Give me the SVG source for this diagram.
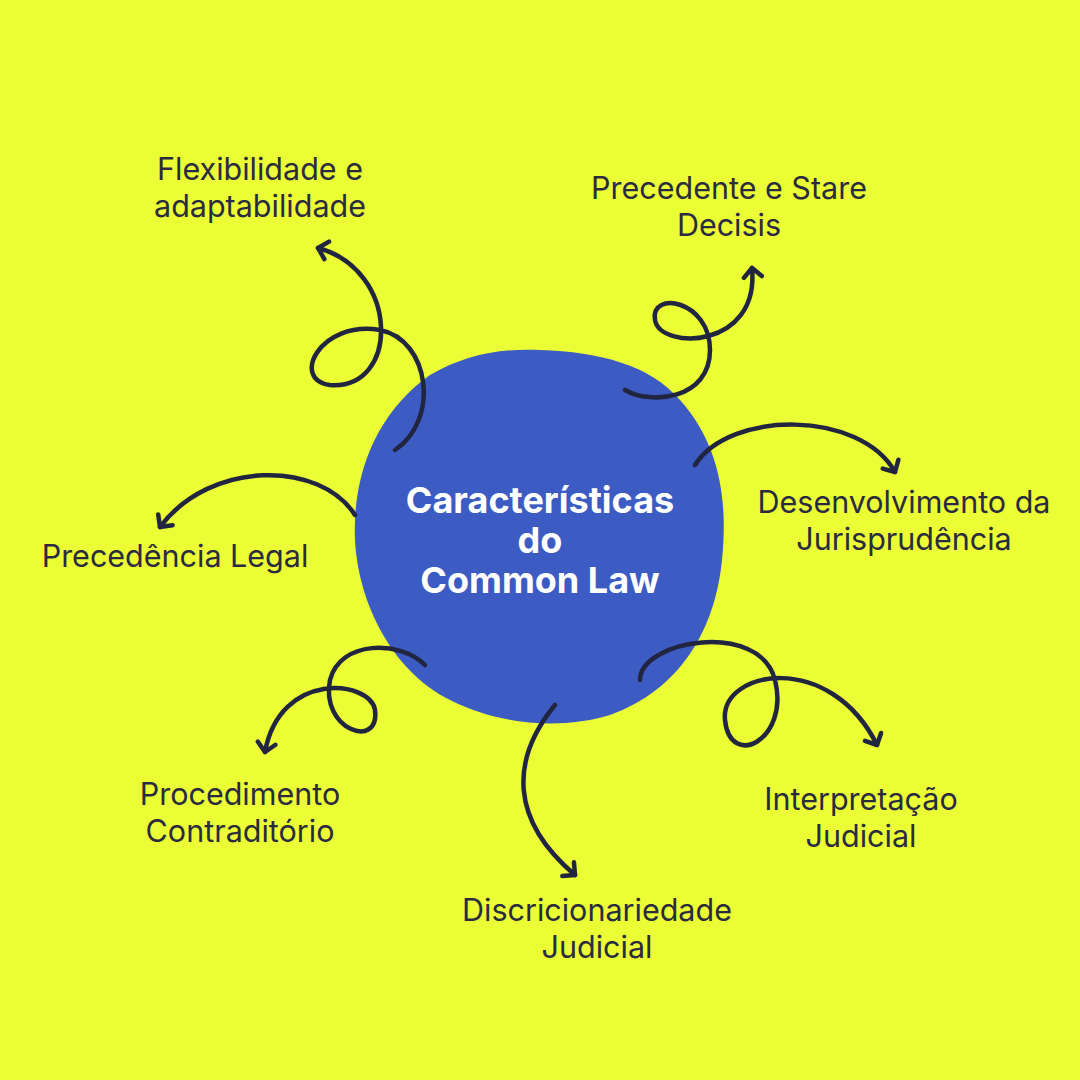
<svg xmlns="http://www.w3.org/2000/svg" width="1080" height="1080" viewBox="0 0 1080 1080">
<defs>
<marker id="ah" viewBox="-12 -12 24 24" markerWidth="24" markerHeight="24" markerUnits="userSpaceOnUse" orient="auto" refX="0" refY="0">
<polyline points="-9,-9 0,0 -9,9" fill="none" stroke="#22253f" stroke-width="4.5" stroke-linecap="round" stroke-linejoin="round"/>
</marker>
<style>
.lbl{font-family:Inter,"Open Sans",sans-serif;font-size:30.5px;fill:#2a2b3f;text-anchor:middle}
.ttl{font-family:Inter,"Open Sans",sans-serif;font-size:36px;font-weight:700;fill:#fff;text-anchor:middle}
.c{fill:none;stroke:#22253f;stroke-width:4.5;stroke-linecap:round;marker-end:url(#ah)}
</style>
</defs>
<rect width="1080" height="1080" fill="#eafd35"/>
<g id="center">
<path d="M540,350 C600,352 650,365 680,400 C720,445 728,500 722,560 C715,630 680,690 610,715 C560,730 500,725 450,700 C390,670 358,600 355,540 C352,470 380,410 430,375 C465,355 500,348 540,350 Z" fill="#3c5cc4"/>
<text class="ttl" x="540" y="513">Características</text>
<text class="ttl" x="540" y="553">do</text>
<text class="ttl" x="540" y="593">Common Law</text>
</g>
<g id="connectors">
<path class="c" d="M395,450 C440,420 430,340 380,330 C320,320 290,380 330,385 C400,390 400,270 318,248"/>
<path class="c" d="M625,390 C650,405 710,400 710,350 C710,300 650,290 655,320 C660,350 760,350 752,268"/>
<path class="c" d="M695,465 C730,410 860,410 895,472"/>
<path class="c" d="M355,515 C320,460 210,460 160,527"/>
<path class="c" d="M425,665 C400,640 340,640 330,680 C320,730 380,750 375,710 C370,680 280,670 265,752"/>
<path class="c" d="M555,705 C510,760 510,820 575,875"/>
<path class="c" d="M640,680 C640,640 760,620 775,680 C790,740 730,770 725,720 C720,670 830,650 877,745"/>
</g>
<g id="n1"><text class="lbl" x="260" y="180">Flexibilidade e</text><text class="lbl" x="260" y="217">adaptabilidade</text></g>
<g id="n2"><text class="lbl" x="729" y="199">Precedente e Stare</text><text class="lbl" x="729" y="236">Decisis</text></g>
<g id="n3"><text class="lbl" x="904" y="513">Desenvolvimento da</text><text class="lbl" x="904" y="550">Jurisprudência</text></g>
<g id="n4"><text class="lbl" x="175" y="567">Precedência Legal</text></g>
<g id="n5"><text class="lbl" x="240" y="805">Procedimento</text><text class="lbl" x="240" y="842">Contraditório</text></g>
<g id="n6"><text class="lbl" x="597" y="921">Discricionariedade</text><text class="lbl" x="597" y="958">Judicial</text></g>
<g id="n7"><text class="lbl" x="861" y="810">Interpretação</text><text class="lbl" x="861" y="847">Judicial</text></g>
</svg>
